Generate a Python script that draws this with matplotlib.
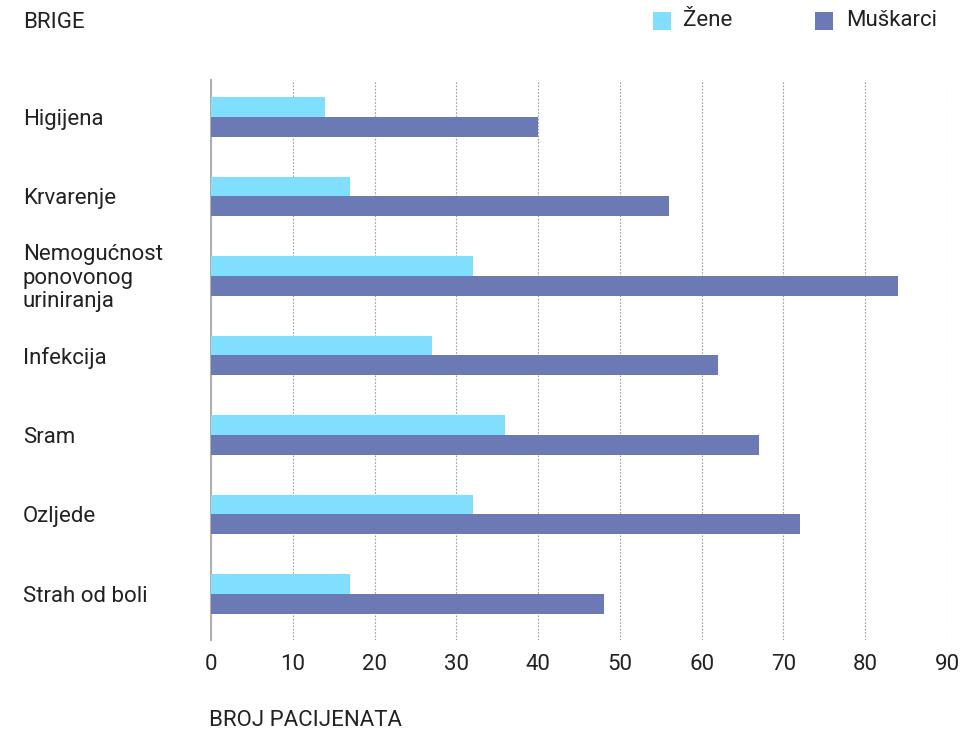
import numpy as np
import matplotlib.pyplot as plt
from matplotlib.patches import Rectangle
from matplotlib.transforms import blended_transform_factory

plt.rcParams['font.family'] = ['Roboto', 'DejaVu Sans']

categories = ["Higijena", "Krvarenje", "Nemogućnost\nponovonog\nuriniranja",
              "Infekcija", "Sram", "Ozljede", "Strah od boli"]
zene = [14, 17, 32, 27, 36, 32, 17]
muskarci = [40, 56, 84, 62, 67, 72, 48]
xticks = [0, 10, 20, 30, 40, 50, 60, 70, 80, 90]

c_zene = "#80dfff"
c_musk = "#6b7ab4"
fs = 16
tc = "#222222"

W, H = 978, 731
fig = plt.figure(figsize=(W / 100, H / 100), dpi=100)
ax = fig.add_axes([211 / W, 1 - 640 / H, (947 - 211) / W, (640 - 80) / H])

y = np.arange(len(categories))
h = 0.25
ax.barh(y - h / 2, zene, height=h, color=c_zene, zorder=3)
ax.barh(y + h / 2, muskarci, height=h, color=c_musk, zorder=3)

ax.set_xlim(0, 90)
ax.set_ylim(6.58, -0.465)
ax.set_xticks(xticks)
ax.set_xticklabels([str(t) for t in xticks], fontsize=fs, color=tc)
ax.tick_params(axis='x', length=0, pad=10)
ax.set_yticks([])
for s in ["top", "right", "bottom"]:
    ax.spines[s].set_visible(False)
ax.spines["left"].set_color("#b0b0b0")
ax.spines["left"].set_linewidth(1.5)
ax.grid(axis='x', color="#a0a0a0", linestyle=(0, (1.5, 1.5)), linewidth=0.8, zorder=0)

# category labels, left aligned near the figure edge
tr = blended_transform_factory(fig.transFigure, ax.transData)
for yi, lab in zip(y, categories):
    ax.text(23 / W, yi + 0.03, lab, transform=tr, ha="left", va="center",
            fontsize=fs, color=tc, linespacing=1.15)

fig.text(23 / W, 1 - 22 / H, "BRIGE", ha="left", va="center", fontsize=fs, color=tc)
fig.text(209 / W, 1 - 720 / H, "BROJ PACIJENATA", ha="left", va="center", fontsize=fs, color=tc)

# legend
fig.add_artist(Rectangle((653 / W, 1 - 30 / H), 18 / W, 18 / H, transform=fig.transFigure,
                         color=c_zene, lw=0))
fig.text(683 / W, 1 - 21 / H, "Žene", ha="left", va="center", fontsize=fs, color=tc)
fig.add_artist(Rectangle((815 / W, 1 - 30 / H), 18 / W, 18 / H, transform=fig.transFigure,
                         color=c_musk, lw=0))
fig.text(846 / W, 1 - 21 / H, "Muškarci", ha="left", va="center", fontsize=fs, color=tc)

fig.savefig("out.png", dpi=100)
